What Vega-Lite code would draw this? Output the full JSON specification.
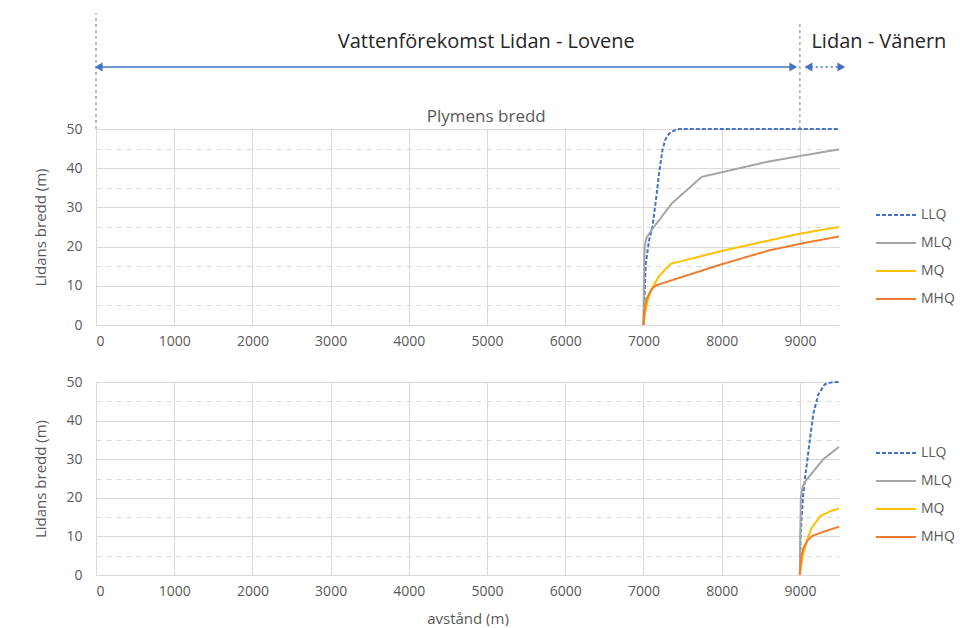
{
  "$schema": "https://vega.github.io/schema/vega-lite/v6.json",
  "autosize": {"type": "pad"},
  "padding": {"left": 33, "top": 12, "right": 0, "bottom": 0},
  "background": "white",
  "spacing": 27,
  "config": {
    "font": "Open Sans",
    "view": {"stroke": null},
    "axis": {
      "labelColor": "#595959",
      "labelFontSize": 14,
      "titleColor": "#595959",
      "titleFontSize": 15,
      "titleFontWeight": "normal",
      "gridColor": "#D9D9D9",
      "domain": false,
      "ticks": false
    },
    "legend": {
      "labelColor": "#595959",
      "labelFontSize": 14
    }
  },
  "datasets": {
    "top": [
      {"series": "LLQ", "x": 7000, "y": 0},
      {"series": "LLQ", "x": 7015, "y": 8},
      {"series": "LLQ", "x": 7029, "y": 15.6},
      {"series": "LLQ", "x": 7072, "y": 21.6},
      {"series": "LLQ", "x": 7114, "y": 25},
      {"series": "LLQ", "x": 7160, "y": 32},
      {"series": "LLQ", "x": 7199, "y": 38.6},
      {"series": "LLQ", "x": 7242, "y": 44.6},
      {"series": "LLQ", "x": 7280, "y": 47.3},
      {"series": "LLQ", "x": 7327, "y": 48.8},
      {"series": "LLQ", "x": 7390, "y": 49.6},
      {"series": "LLQ", "x": 7455, "y": 50},
      {"series": "LLQ", "x": 9500, "y": 50},
      {"series": "MLQ", "x": 7000, "y": 0},
      {"series": "MLQ", "x": 7005, "y": 10},
      {"series": "MLQ", "x": 7015, "y": 20},
      {"series": "MLQ", "x": 7040, "y": 22.3},
      {"series": "MLQ", "x": 7107, "y": 24.3},
      {"series": "MLQ", "x": 7362, "y": 31},
      {"series": "MLQ", "x": 7745, "y": 37.8},
      {"series": "MLQ", "x": 8600, "y": 41.7},
      {"series": "MLQ", "x": 9000, "y": 43.1},
      {"series": "MLQ", "x": 9500, "y": 44.8},
      {"series": "MQ", "x": 7000, "y": 0},
      {"series": "MQ", "x": 7020, "y": 3},
      {"series": "MQ", "x": 7050, "y": 6},
      {"series": "MQ", "x": 7100, "y": 9},
      {"series": "MQ", "x": 7200, "y": 12.5},
      {"series": "MQ", "x": 7349, "y": 15.6},
      {"series": "MQ", "x": 8000, "y": 18.9},
      {"series": "MQ", "x": 9000, "y": 23.3},
      {"series": "MQ", "x": 9500, "y": 25},
      {"series": "MHQ", "x": 7000, "y": 0},
      {"series": "MHQ", "x": 7005, "y": 2},
      {"series": "MHQ", "x": 7020, "y": 5},
      {"series": "MHQ", "x": 7050, "y": 7.1},
      {"series": "MHQ", "x": 7100, "y": 9},
      {"series": "MHQ", "x": 7157, "y": 10.1},
      {"series": "MHQ", "x": 7500, "y": 12.3},
      {"series": "MHQ", "x": 8000, "y": 15.5},
      {"series": "MHQ", "x": 8600, "y": 19},
      {"series": "MHQ", "x": 9000, "y": 20.7},
      {"series": "MHQ", "x": 9500, "y": 22.6}
    ],
    "bottom": [
      {"series": "LLQ", "x": 9000, "y": 0},
      {"series": "LLQ", "x": 9008, "y": 10.3},
      {"series": "LLQ", "x": 9041, "y": 20.6},
      {"series": "LLQ", "x": 9070, "y": 25.8},
      {"series": "LLQ", "x": 9100, "y": 30.5},
      {"series": "LLQ", "x": 9133, "y": 36},
      {"series": "LLQ", "x": 9174, "y": 42},
      {"series": "LLQ", "x": 9236, "y": 46.8},
      {"series": "LLQ", "x": 9318, "y": 49.4},
      {"series": "LLQ", "x": 9400, "y": 49.9},
      {"series": "LLQ", "x": 9462, "y": 50},
      {"series": "LLQ", "x": 9500, "y": 50},
      {"series": "MLQ", "x": 9000, "y": 0},
      {"series": "MLQ", "x": 9005, "y": 10},
      {"series": "MLQ", "x": 9012, "y": 20},
      {"series": "MLQ", "x": 9035, "y": 22.8},
      {"series": "MLQ", "x": 9070, "y": 24.3},
      {"series": "MLQ", "x": 9300, "y": 30},
      {"series": "MLQ", "x": 9500, "y": 33.2},
      {"series": "MQ", "x": 9000, "y": 0},
      {"series": "MQ", "x": 9020, "y": 3},
      {"series": "MQ", "x": 9050, "y": 6},
      {"series": "MQ", "x": 9100, "y": 9.5},
      {"series": "MQ", "x": 9150, "y": 12.2},
      {"series": "MQ", "x": 9263, "y": 15.3},
      {"series": "MQ", "x": 9400, "y": 16.6},
      {"series": "MQ", "x": 9500, "y": 17.2},
      {"series": "MHQ", "x": 9000, "y": 0},
      {"series": "MHQ", "x": 9005, "y": 2},
      {"series": "MHQ", "x": 9020, "y": 5},
      {"series": "MHQ", "x": 9045, "y": 7},
      {"series": "MHQ", "x": 9100, "y": 9},
      {"series": "MHQ", "x": 9157, "y": 10.1},
      {"series": "MHQ", "x": 9300, "y": 11.2},
      {"series": "MHQ", "x": 9500, "y": 12.5}
    ],
    "bounds": [
      {"x": 0, "y": 50, "y2": 79.5},
      {"x": 9000, "y": 50, "y2": 77.5}
    ],
    "arrowMain": [{"x": 0, "x2": 8950, "y": 65.8}],
    "arrowSmall": [{"x": 9075, "x2": 9565, "y": 65.8}],
    "headsLeft": [{"x": 35, "y": 65.8}, {"x": 9110, "y": 65.8}],
    "headsRight": [{"x": 8915, "y": 65.8}, {"x": 9530, "y": 65.8}],
    "sections": [
      {"label": "Vattenförekomst Lidan - Lovene", "x": 4990, "y": 72.2},
      {"label": "Lidan - Vänern", "x": 10010, "y": 72.2}
    ],
    "chartTitle": [{"label": "Plymens bredd", "x": 4990, "y": 53.1}]
  },
  "resolve": {
    "scale": {"color": "independent", "strokeDash": "independent"},
    "legend": {"color": "independent", "strokeDash": "independent"}
  },
  "vconcat": [
    {
      "width": 743,
      "height": 196,
      "encoding": {
        "x": {
          "field": "x", "type": "quantitative",
          "scale": {"domain": [0, 9500], "nice": false, "zero": false},
          "axis": {"title": null, "values": [0, 1000, 2000, 3000, 4000, 5000, 6000, 7000, 8000, 9000], "grid": true, "labelPadding": 9, "format": "d"}
        },
        "y": {
          "field": "y", "type": "quantitative",
          "scale": {"domain": [0, 50], "nice": false},
          "axis": {
            "title": "Lidans bredd (m)",
            "values": [0, 5, 10, 15, 20, 25, 30, 35, 40, 45, 50],
            "labelExpr": "datum.value % 10 === 0 ? datum.label : ''",
            "labelOverlap": false,
            "grid": true,
            "gridDash": {"condition": {"test": "datum.value % 10 !== 0", "value": [5, 5]}, "value": []},
            "labelPadding": 14,
            "titlePadding": 17
          }
        }
      },
      "layer": [
        {
          "data": {"name": "top"},
          "mark": {"type": "line", "strokeWidth": 2},
          "encoding": {
            "color": {
              "field": "series", "type": "nominal",
              "scale": {"domain": ["LLQ", "MLQ", "MQ", "MHQ"], "range": ["#4472C4", "#A5A5A5", "#FFC000", "#ED7D31"]},
              "legend": {"title": null, "orient": "none", "legendX": 779, "legendY": 65, "symbolType": "stroke", "symbolSize": 1600, "symbolStrokeWidth": 2, "rowPadding": -12, "padding": 0}
            },
            "strokeDash": {
              "field": "series", "type": "nominal",
              "scale": {"domain": ["LLQ", "MLQ", "MQ", "MHQ"], "range": [[4, 2], [1, 0], [1, 0], [1, 0]]},
              "legend": {"title": null, "orient": "none", "legendX": 779, "legendY": 65, "symbolType": "stroke", "symbolSize": 1600, "symbolStrokeWidth": 2, "rowPadding": -12, "padding": 0}
            }
          }
        },
        {
          "data": {"name": "bounds"},
          "mark": {"type": "rule", "color": "#7F7F7F", "strokeDash": [3, 3], "strokeWidth": 1},
          "encoding": {
            "y2": {"field": "y2"}
          }
        },
        {
          "data": {"name": "arrowMain"},
          "mark": {"type": "rule", "color": "#4472C4", "strokeWidth": 1.5},
          "encoding": {
            "x2": {"field": "x2"}
          }
        },
        {
          "data": {"name": "arrowSmall"},
          "mark": {"type": "rule", "color": "#4472C4", "strokeWidth": 1.5, "strokeDash": [2, 3]},
          "encoding": {
            "x2": {"field": "x2"}
          }
        },
        {
          "data": {"name": "headsLeft"},
          "mark": {"type": "point", "shape": "triangle-left", "filled": true, "color": "#4472C4", "size": 80, "opacity": 1},
          "encoding": {}
        },
        {
          "data": {"name": "headsRight"},
          "mark": {"type": "point", "shape": "triangle-right", "filled": true, "color": "#4472C4", "size": 80, "opacity": 1},
          "encoding": {}
        },
        {
          "data": {"name": "sections"},
          "mark": {"type": "text", "fontSize": 20, "color": "#262626", "baseline": "middle", "align": "center"},
          "encoding": {
            "text": {"field": "label"}
          }
        },
        {
          "data": {"name": "chartTitle"},
          "mark": {"type": "text", "fontSize": 17, "color": "#595959", "baseline": "middle", "align": "center"},
          "encoding": {
            "text": {"field": "label"}
          }
        }
      ]
    },
    {
      "width": 743,
      "height": 193,
      "data": {"name": "bottom"},
      "mark": {"type": "line", "strokeWidth": 2},
      "encoding": {
        "x": {
          "field": "x", "type": "quantitative",
          "scale": {"domain": [0, 9500], "nice": false, "zero": false},
          "axis": {"title": "avstånd (m)", "values": [0, 1000, 2000, 3000, 4000, 5000, 6000, 7000, 8000, 9000], "grid": true, "labelPadding": 9, "titlePadding": 13, "format": "d"}
        },
        "y": {
          "field": "y", "type": "quantitative",
          "scale": {"domain": [0, 50], "nice": false},
          "axis": {
            "title": "Lidans bredd (m)",
            "values": [0, 5, 10, 15, 20, 25, 30, 35, 40, 45, 50],
            "labelExpr": "datum.value % 10 === 0 ? datum.label : ''",
            "labelOverlap": false,
            "grid": true,
            "gridDash": {"condition": {"test": "datum.value % 10 !== 0", "value": [5, 5]}, "value": []},
            "labelPadding": 14,
            "titlePadding": 17
          }
        },
        "color": {
          "field": "series", "type": "nominal",
          "scale": {"domain": ["LLQ", "MLQ", "MQ", "MHQ"], "range": ["#4472C4", "#A5A5A5", "#FFC000", "#ED7D31"]},
          "legend": {"title": null, "orient": "none", "legendX": 779, "legendY": 50, "symbolType": "stroke", "symbolSize": 1600, "symbolStrokeWidth": 2, "rowPadding": -12, "padding": 0}
        },
        "strokeDash": {
          "field": "series", "type": "nominal",
          "scale": {"domain": ["LLQ", "MLQ", "MQ", "MHQ"], "range": [[4, 2], [1, 0], [1, 0], [1, 0]]},
          "legend": {"title": null, "orient": "none", "legendX": 779, "legendY": 50, "symbolType": "stroke", "symbolSize": 1600, "symbolStrokeWidth": 2, "rowPadding": -12, "padding": 0}
        }
      }
    }
  ]
}
